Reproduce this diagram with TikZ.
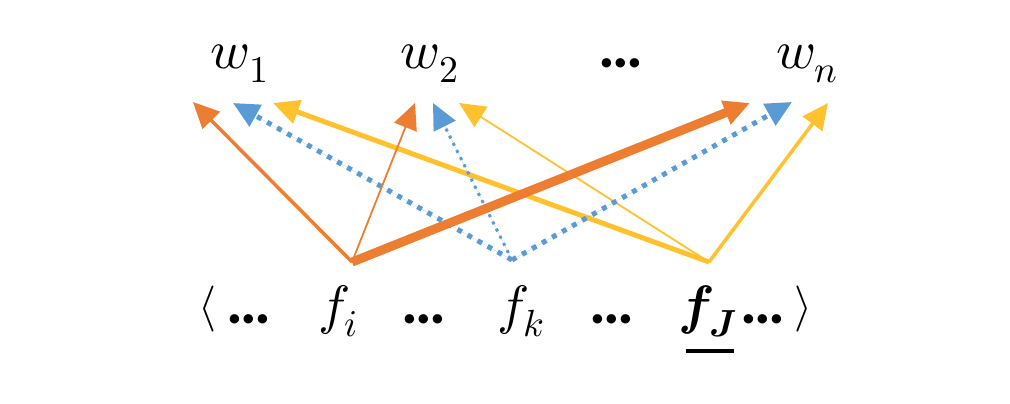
\documentclass[tikz,border=0pt]{standalone}
\usepackage{fontspec}
\usepackage{unicode-math}
\setmathfont{Latin Modern Math}
\newfontfamily\dotfont{Carlito}
\usetikzlibrary{arrows.meta}
\definecolor{ored}{HTML}{ED7D31}
\definecolor{bblue}{HTML}{5B9BD5}
\definecolor{ygold}{HTML}{FFC12E}
\begin{document}
\begin{tikzpicture}[x=1pt,y=-1pt,
  lbl/.style={inner sep=0pt, anchor=base, font=\fontsize{54}{60}\selectfont},
  dotlbl/.style={inner sep=0pt, anchor=base, font=\dotfont\bfseries\fontsize{63}{70}\selectfont},
  brk/.style={inner sep=0pt, anchor=base, font=\fontsize{46}{50}\selectfont},
  head/.style={-{Triangle[length=26pt,width=24pt]}},
  oline/.style={head, draw=ored, fill=ored},
  yline/.style={head, draw=ygold, fill=ygold},
  bline/.style={head, draw=bblue, fill=bblue, dash pattern=on 5pt off 6.5pt},
]
\useasboundingbox (0,0) rectangle (1010,404);

% top labels
\node[lbl] (w1) at (240,69) {$w_1$};
\node[lbl] (w2) at (430,69) {$w_2$};
\node[dotlbl] (tdots) at (621,68) {…};
\node[lbl] (wn) at (807,69) {$w_n$};

% bottom labels
\node[brk] (lb) at (207,320) {$\langle$};
\node[dotlbl] (d1) at (249,323) {…};
\node[lbl] (fi) at (338,323) {$f_i$};
\node[dotlbl] (d2) at (424,323) {…};
\node[lbl] (fk) at (521,323) {$f_k$};
\node[dotlbl] (d3) at (612,323) {…};
\node[lbl] (fJ) at (708,323) {$\symbfit{f}_{\symbfit{J}}$};
\node[dotlbl] (d4) at (763,323) {…};
\node[brk] (rb) at (803,320) {$\rangle$};
\draw[line width=4pt] (686,351) -- (734,351);

% connector endpoints
\coordinate (si) at (352,262);
\coordinate (sk) at (512,260);
\coordinate (sJ) at (709,262);
\coordinate (o1) at (193,102);
\coordinate (b1) at (233,103);
\coordinate (y1) at (273,103);
\coordinate (o2) at (415,103);
\coordinate (b2) at (433,103);
\coordinate (y2) at (459,103);
\coordinate (on) at (750,103);
\coordinate (bn) at (792,102);
\coordinate (yn) at (828,103);

% yellow
\draw[yline, line width=5pt] (sJ) -- (y1);
\draw[yline, line width=1.8pt] (sJ) -- (y2);
\draw[yline, line width=3.5pt] (sJ) -- (yn);
% blue
\draw[bline, line width=5pt] (sk) -- (b1);
\draw[bline, line width=3pt, dash pattern=on 3pt off 5pt] (sk) -- (b2);
\draw[bline, line width=5pt] (sk) -- (bn);
% orange
\draw[oline, line width=3.5pt] (si) -- (o1);
\draw[oline, line width=1.8pt] (si) -- (o2);
\draw[oline, line width=9pt] (si) -- (on);
\end{tikzpicture}
\end{document}
